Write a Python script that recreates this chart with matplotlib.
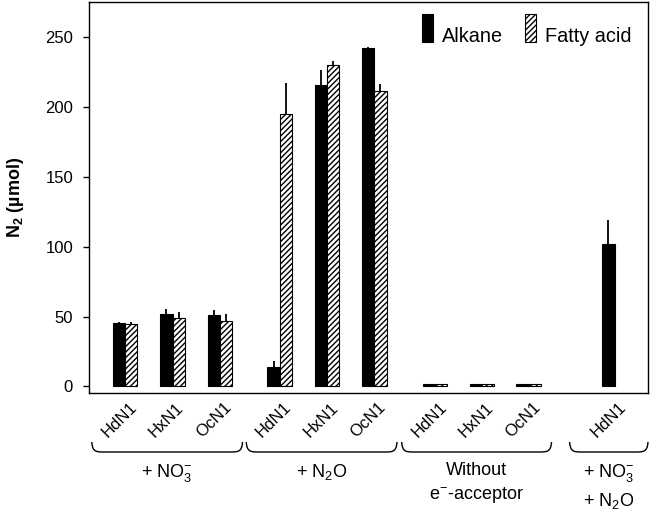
import matplotlib
matplotlib.use("Agg")
import matplotlib.pyplot as plt
import numpy as np
from matplotlib.path import Path
from matplotlib.patches import PathPatch, Rectangle
import matplotlib.transforms as mtransforms

plt.rcParams['font.family'] = ['Liberation Sans', 'DejaVu Sans']
plt.rcParams['mathtext.fontset'] = 'custom'
plt.rcParams['mathtext.rm'] = 'Liberation Sans'
plt.rcParams['mathtext.it'] = 'Liberation Sans:italic'
plt.rcParams['mathtext.bf'] = 'Liberation Sans:bold'
plt.rcParams['hatch.linewidth'] = 1.0

# ---- data ----
groups = [r'+ NO$_3^{-}$', r'+ N$_2$O', 'Without\n' + r'e$^{-}$-acceptor', r'+ NO$_3^{-}$' + '\n' + r'+ N$_2$O']
strains = [['HdN1', 'HxN1', 'OcN1'], ['HdN1', 'HxN1', 'OcN1'], ['HdN1', 'HxN1', 'OcN1'], ['HdN1']]
series = ['Alkane', 'Fatty acid']
alkane = [45, 52, 51, 14, 215.5, 242, 2, 2, 2, 102]
alkane_err = [1, 3.5, 4, 4, 11, 1.2, 0, 0, 0, 17]
fatty = [44.5, 49, 46.5, 195, 230, 211.5, 1.5, 1.5, 1.5, 0]
fatty_err = [1.5, 4.5, 5, 22, 3, 5, 0, 0, 0, 0]
yticks = [0, 50, 100, 150, 200, 250]

# ---- layout ----
group_starts = [0.0, 3.33, 6.68, 10.55]
centers = []
for gs, s in zip(group_starts, strains):
    for i in range(len(s)):
        centers.append(gs + i * (1.02 if gs < 6 else 1.01))
centers = np.array(centers)
w = 0.265

fig = plt.figure(figsize=(6.5, 5.16), dpi=100)
ax = fig.add_axes([89/650, 1 - 393/516, (648-89)/650, (393-2)/516])

ax.bar(centers - w/2, alkane, width=w, color='black', edgecolor='black',
       linewidth=[0.8 if v > 0 else 0 for v in alkane], label=series[0])
ax.bar(centers + w/2, fatty, width=w, color='white', edgecolor='black',
       linewidth=[0.8 if v > 0 else 0 for v in fatty], hatch='//////', label=series[1])
ae = np.array(alkane_err); fe = np.array(fatty_err)
ax.errorbar(centers - w/2, alkane, yerr=[np.zeros_like(ae), ae], fmt='none', ecolor='black', elinewidth=1.3, capsize=0)
ax.errorbar(centers + w/2, fatty, yerr=[np.zeros_like(fe), fe], fmt='none', ecolor='black', elinewidth=1.3, capsize=0)

ax.set_xlim(-0.78, 11.27)
ax.set_ylim(-4.8, 275.3)
ax.set_yticks(yticks)
ax.set_yticklabels([str(t) for t in yticks], fontsize=12)
ax.tick_params(axis='y', direction='out', length=4.5, width=1, pad=7)
ax.set_xticks([])
for sp in ax.spines.values():
    sp.set_linewidth(1.0)
ax.set_ylabel(r'$\mathbf{N_2}$ (µmol)', fontsize=13, fontweight='bold', labelpad=14)

# ---- legend (drawn by hand, pixel-placed in axes fraction) ----
def axx(p):
    return (p - 89) / 559.0
def ypx(p):
    return (393 - p) / 391.0

leg_items = [(422, 442, dict(facecolor='black', edgecolor='black')),
             (525, 545, dict(facecolor='white', edgecolor='black', hatch='//////'))]
for (px, tx, style), name in zip(leg_items, series):
    ax.add_patch(Rectangle((axx(px), ypx(42)), 11/559, 28/391, transform=ax.transAxes,
                           linewidth=0.8, **style))
    ax.text(axx(tx), ypx(42), name, transform=ax.transAxes, fontsize=14.3,
            ha='left', va='baseline')

# ---- x labels, braces, group labels ----
trans = mtransforms.blended_transform_factory(ax.transData, ax.transAxes)

idx = 0
for gi, (gs, s) in enumerate(zip(group_starts, strains)):
    first = centers[idx]
    for name in s:
        ax.text(centers[idx] - 0.13, ypx(420), name, rotation=45, ha='center', va='center',
                fontsize=12, transform=trans, clip_on=False)
        idx += 1
    last = centers[idx - 1]
    if len(s) > 1:
        L, R = first - 0.72, last + 0.49
    else:
        L, R = first - 0.97, last + 0.72
    dx = 0.3
    ytop, ybot = ypx(442), ypx(452)
    verts = [(L, ytop), (L + dx*0.05, ybot - (ytop-ybot)*0.05), (L + dx*0.35, ybot), (L + dx, ybot),
             (R - dx, ybot), (R - dx*0.35, ybot), (R - dx*0.05, ybot - (ytop-ybot)*0.05), (R, ytop)]
    codes = [Path.MOVETO, Path.CURVE4, Path.CURVE4, Path.CURVE4,
             Path.LINETO, Path.CURVE4, Path.CURVE4, Path.CURVE4]
    ax.add_patch(PathPatch(Path(verts, codes), transform=trans, fill=False,
                           edgecolor='black', linewidth=1.0, clip_on=False))
    cx = (L + R) / 2
    ax.text(cx, ypx(462), groups[gi], ha='center', va='top', fontsize=13,
            transform=trans, clip_on=False, linespacing=1.45)

fig.savefig('out.png', dpi=100)
